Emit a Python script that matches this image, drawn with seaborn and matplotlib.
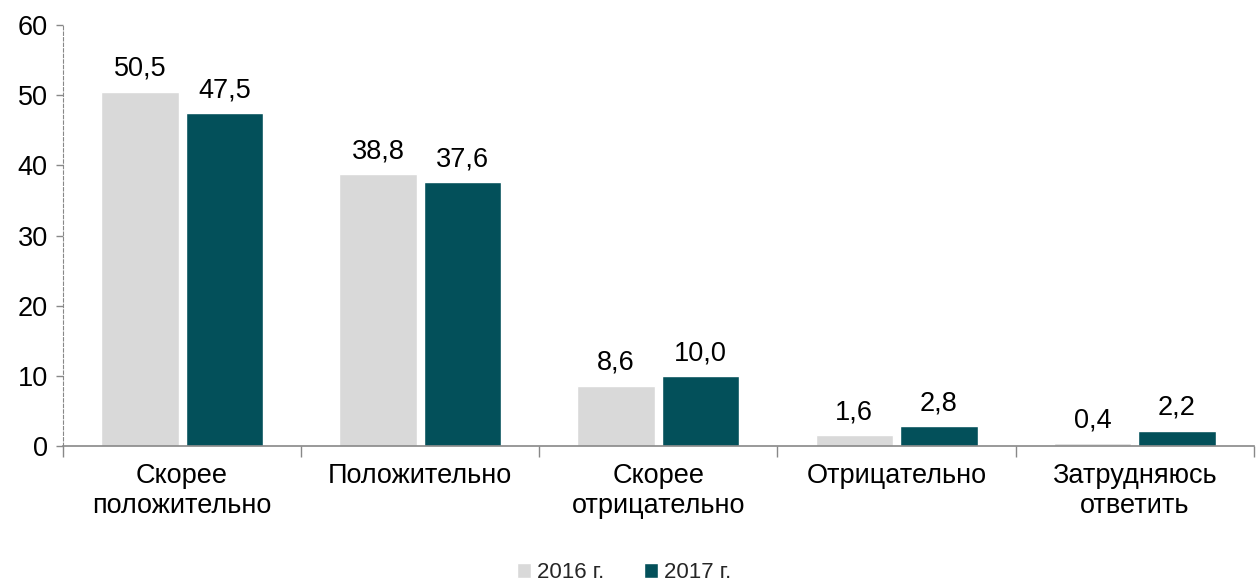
import numpy as np
import pandas as pd
import matplotlib
matplotlib.use("Agg")
import matplotlib.pyplot as plt
import seaborn as sns
from matplotlib.ticker import FixedLocator

categories = ["Скорее\nположительно", "Положительно", "Скорее\nотрицательно",
              "Отрицательно", "Затрудняюсь\nответить"]
years = ["2016 г.", "2017 г."]
values_2016 = [50.5, 38.8, 8.6, 1.6, 0.4]
values_2017 = [47.5, 37.6, 10.0, 2.8, 2.2]
colors = ["#D9D9D9", "#03505A"]

df = pd.DataFrame({
    "cat": categories * 2,
    "year": [years[0]] * 5 + [years[1]] * 5,
    "val": values_2016 + values_2017,
})

sns.set_style("white")
plt.rcParams["font.family"] = ["Liberation Sans", "DejaVu Sans"]
fs = 19.5

fig = plt.figure(figsize=(12.56, 5.83), dpi=100)
ax = fig.add_axes([0.0502, 0.235, 0.948, 0.722])

sns.barplot(data=df, x="cat", y="val", hue="year", palette=colors,
            width=0.71, gap=0.083, ax=ax, saturation=1, legend=True)

for cont in ax.containers:
    ax.bar_label(cont, labels=[f"{v:.1f}".replace(".", ",") for v in cont.datavalues],
                 padding=7, fontsize=fs, color="#000000")

ax.set_xlim(-0.5, 4.5)
ax.set_ylim(0, 60)
ax.set_yticks(np.arange(0, 61, 10))
ax.set_xlabel("")
ax.set_ylabel("")
ax.tick_params(axis="y", labelsize=fs, labelcolor="#000000", left=True, length=5,
               width=1, color="#888888", pad=6)
ax.tick_params(axis="x", which="major", labelsize=fs, labelcolor="#000000", length=0, pad=12)
ax.xaxis.set_minor_locator(FixedLocator(np.arange(-0.5, 5, 1)))
ax.tick_params(axis="x", which="minor", bottom=True, length=8, width=1, color="#888888")

for s in ["top", "right"]:
    ax.spines[s].set_visible(False)
ax.spines["left"].set_color("#888888")
ax.spines["left"].set_linestyle((0, (3, 2)))
ax.spines["bottom"].set_color("#888888")
ax.spines["bottom"].set_linewidth(1.2)

handles, labels = ax.get_legend_handles_labels()
ax.get_legend().remove()
fig.legend(handles, labels, loc="center", bbox_to_anchor=(0.497, 0.018), ncol=2,
           frameon=False, fontsize=16, handlelength=0.64, handleheight=0.64,
           handletextpad=0.25, columnspacing=1.8, borderpad=0)

fig.savefig("out.png", dpi=100)
